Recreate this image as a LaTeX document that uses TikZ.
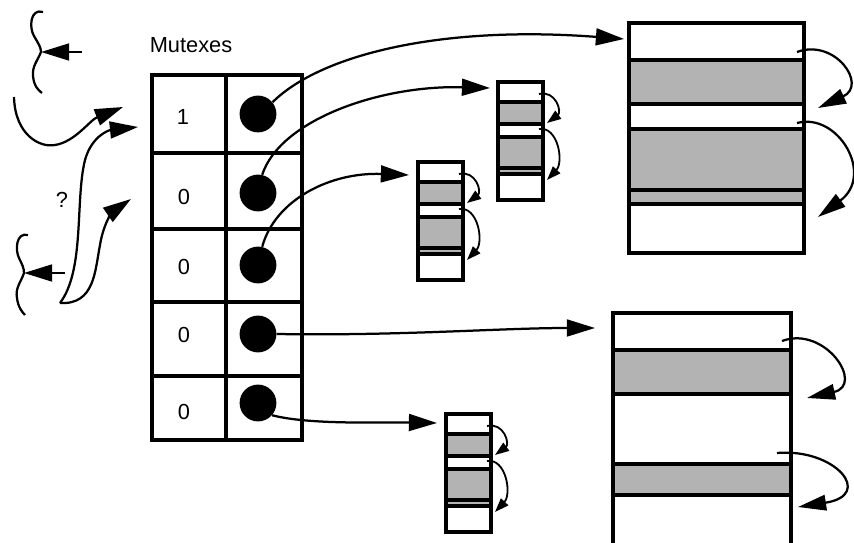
\documentclass[tikz,border=0pt]{standalone}
\usepackage{fontspec}
\setmainfont{Liberation Sans}
\usetikzlibrary{arrows.meta}
\definecolor{bandFill}{HTML}{b3b3b3}
\newcommand{\smallblk}[2]{% top left corner of a small block
  \begin{scope}[shift={(#1,#2)}]
    \fill[bandFill] (0,20) rectangle (45,42) (0,55) rectangle (45,92);
    \draw[edge] (0,20) -- (45,20) (0,42) -- (45,42) (0,55) -- (45,55) (0,86) -- (45,86) (0,92) -- (45,92);
    \draw[edge] (0,0) rectangle (45,118);
    \draw[selfarr] (41,12) .. controls (58,8) and (64,30) .. (49,41);
    \draw[selfarr] (41,47) .. controls (60,44) and (66,80) .. (49,98);
  \end{scope}}

\begin{document}
\begin{tikzpicture}[x=0.025cm, y=-0.025cm,
  edge/.style={line width=2.2pt},
  txt/.style={font=\fontsize{15.5}{18}\selectfont, inner sep=0pt},
  dot/.style={circle, fill=black, minimum size=0.92cm, inner sep=0pt},
  lnk/.style={line width=1.6pt, -{Triangle[length=20pt,width=12pt]}},
  selfarr/.style={line width=1.3pt, -{Triangle[length=10pt,width=7pt]}},
  bigarr/.style={line width=1.6pt, -{Triangle[length=20pt,width=11pt]}}]
\useasboundingbox (0,0) rectangle (854,543);
% mutex table
\node[txt] (title) at (191,45) {Mutexes};
\draw[edge] (152,75) rectangle (302,440);
\draw[edge] (226,75) -- (226,440);
\draw[edge] (152,153) -- (302,153) (152,229) -- (302,229) (152,302) -- (302,302) (152,376) -- (302,376);
\node[txt] (v1) at (183,117) {1};
\node[txt] (v2) at (184,197) {0};
\node[txt] (v3) at (184,267) {0};
\node[txt] (v4) at (184,335) {0};
\node[txt] (v5) at (184,412) {0};
\node[dot] (d1) at (258,114) {};
\node[dot] (d2) at (258,193) {};
\node[dot] (d3) at (258,265) {};
\node[dot] (d4) at (258,334) {};
\node[dot] (d5) at (258,403) {};
% big block, top
\fill[bandFill] (629,60) rectangle (804,104) (629,129) rectangle (804,204);
\draw[edge] (629,60) -- (804,60) (629,104) -- (804,104) (629,129) -- (804,129) (629,190) -- (804,190) (629,204) -- (804,204);
\draw[edge] (629,23) rectangle (804,253);
\draw[bigarr] (797,52) .. controls (835,38) and (868,85) .. (818,108);
\draw[bigarr] (797,123) .. controls (838,112) and (875,175) .. (818,217);
% big block, bottom
\fill[bandFill] (613,350) rectangle (791,394) (613,464) rectangle (791,495);
\draw[edge] (613,350) -- (791,350) (613,394) -- (791,394) (613,464) -- (791,464) (613,495) -- (791,495);
\draw[edge] (613,543) -- (613,313) -- (791,313) -- (791,543);
\draw[bigarr] (782,341) .. controls (825,325) and (865,385) .. (807,398);
\draw[bigarr] (777,453) .. controls (835,448) and (875,495) .. (798,507);
% small blocks
\smallblk{498}{82}
\smallblk{418}{162}
\smallblk{446}{414}
% links from the mutexes
\coordinate (t1) at (624,39);
\coordinate (t2) at (490,88);
\coordinate (t3) at (409,175);
\coordinate (t4) at (595,328);
\coordinate (t5) at (437,423);
\draw[lnk] (d1.39) .. controls (320,55) and (440,25) .. (t1);
\draw[lnk] (d2.77) .. controls (280,120) and (380,85) .. (t2);
\draw[lnk] (d3.77) .. controls (275,200) and (330,172) .. (t3);
\draw[lnk] (d4.east) .. controls (400,336) and (500,328) .. (t4);
\draw[lnk] (d5.-41) .. controls (310,425) and (380,422) .. (t5);
% threads on the left
\coordinate (w1) at (41,52);
\coordinate (w2) at (24,273);
\coordinate (a1) at (82,52);
\coordinate (a2) at (65,273);
\coordinate (s1) at (14,97);
\coordinate (s2) at (60,303);
\coordinate (h1) at (123,107);
\coordinate (h2) at (138,127);
\coordinate (h3) at (131,199);
\draw[line width=1.6pt] (43,12) .. controls (30,8) and (29,28) .. (34,36) .. controls (38,43) and (41,47) .. (w1)
  .. controls (38,60) and (32,66) .. (33,76) .. controls (34,86) and (38,90) .. (42,93);
\draw[line width=1.6pt] (28,235) .. controls (16,232) and (15,250) .. (19,258) .. controls (22,264) and (24,268) .. (w2)
  .. controls (21,282) and (15,288) .. (17,298) .. controls (18,307) and (22,312) .. (25,315);
\draw[lnk] (a1) -- (w1);
\draw[lnk] (a2) -- (w2);
\draw[lnk] (s1) .. controls (15,135) and (40,148) .. (55,145) .. controls (75,142) and (90,120) .. (h1);
\draw[lnk] (s2) .. controls (85,270) and (75,200) .. (85,160) .. controls (92,135) and (110,130) .. (h2);
\draw[lnk] (s2) .. controls (95,305) and (95,270) .. (100,245) .. controls (104,220) and (115,210) .. (h3);
\node[txt] (q) at (62,200) {?};
\end{tikzpicture}
\end{document}
